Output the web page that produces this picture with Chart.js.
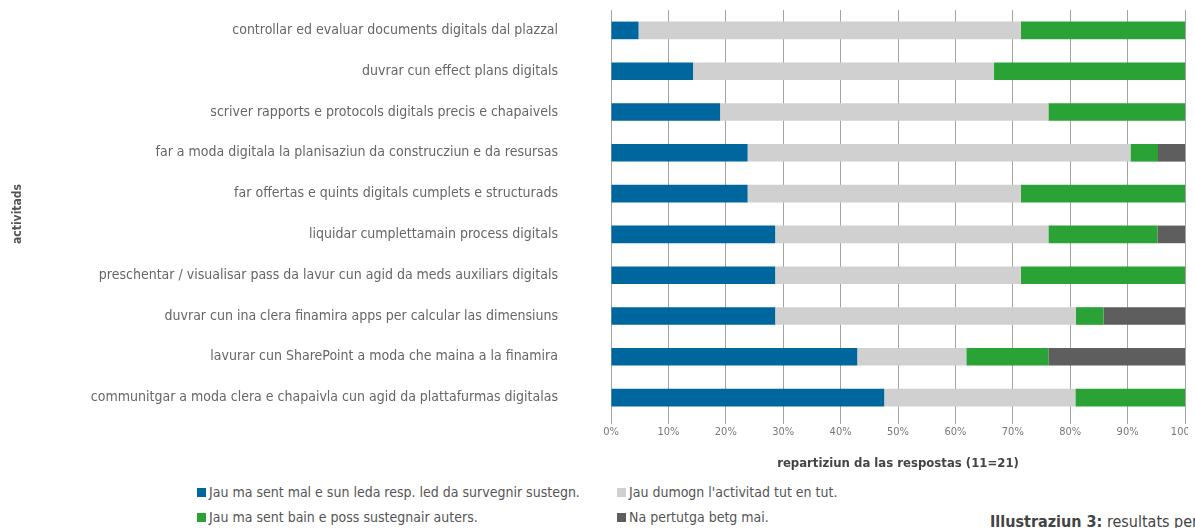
<!DOCTYPE html>
<html>
<head>
<meta charset="utf-8">
<script src="https://cdn.jsdelivr.net/npm/chart.js@4.4.0/dist/chart.umd.min.js"></script>
<style>
  html, body { margin: 0; padding: 0; background: #fff; overflow: hidden; width: 1195px; height: 528px; }
  body { position: relative; font-family: 'Liberation Sans Narrow', 'DejaVu Sans Condensed', sans-serif; }
  #wrap { position: absolute; left: 0; top: 0; width: 1188px; height: 478px; overflow: hidden; }
  #box { width: 1210px; height: 478px; }
  .leg { position: absolute; font-size: 14px; color: #555; white-space: nowrap; line-height: 16px; }
  .leg i { display: inline-block; width: 9px; height: 9px; margin-right: 3px; vertical-align: 0px; }
  #caption { position: absolute; left: 990px; top: 512px; font-size: 16px; color: #444; white-space: nowrap; }
</style>
</head>
<body>
<div id="wrap"><div id="box"><canvas id="chart"></canvas></div></div>
<div id="legend"></div>
<div id="caption"><b>Illustraziun 3:</b> resultats per</div>

<script>
const categories = [
  "controllar ed evaluar documents digitals dal plazzal",
  "duvrar cun effect plans digitals",
  "scriver rapports e protocols digitals precis e chapaivels",
  "far a moda digitala la planisaziun da construcziun e da resursas",
  "far offertas e quints digitals cumplets e structurads",
  "liquidar cumplettamain process digitals",
  "preschentar / visualisar pass da lavur cun agid da meds auxiliars digitals",
  "duvrar cun ina clera finamira apps per calcular las dimensiuns",
  "lavurar cun SharePoint a moda che maina a la finamira",
  "communitgar a moda clera e chapaivla cun agid da plattafurmas digitalas"
];

const seriesNames = [
  "Jau ma sent mal e sun leda resp. led da survegnir sustegn.",
  "Jau dumogn l'activitad tut en tut.",
  "Jau ma sent bain e poss sustegnair auters.",
  "Na pertutga betg mai."
];

// percent of answers (n=21)
const malValues    = [4.8, 14.3, 19.0, 23.8, 23.8, 28.6, 28.6, 28.6, 42.9, 47.6];
const dumognValues = [66.6, 52.4, 57.2, 66.7, 47.6, 47.6, 42.8, 52.4, 19.0, 33.3];
const bainValues   = [28.6, 33.3, 23.8, 4.8, 28.6, 19.0, 28.6, 4.8, 14.3, 19.1];
const betgValues   = [0, 0, 0, 4.7, 0, 4.8, 0, 14.2, 23.8, 0];

const xTicks = [0, 10, 20, 30, 40, 50, 60, 70, 80, 90, 100];

const colors = ["#00669e", "#cfd0cf", "#2aa236", "#5e5e5e"];
const allValues = [malValues, dumognValues, bainValues, betgValues];

const FONT = "'Liberation Sans Narrow', 'DejaVu Sans Condensed', sans-serif";

const ctx = document.getElementById("chart").getContext("2d");
new Chart(ctx, {
  type: "bar",
  data: {
    labels: categories,
    datasets: seriesNames.map((name, i) => ({
      label: name,
      data: allValues[i],
      backgroundColor: colors[i],
      borderWidth: 0,
      barPercentage: 0.9,
      categoryPercentage: 0.48
    }))
  },
  options: {
    indexAxis: "y",
    responsive: true,
    maintainAspectRatio: false,
    animation: false,
    layout: { padding: { left: 0, right: 25, top: 10, bottom: 0 } },
    plugins: {
      legend: { display: false },
      tooltip: { enabled: false }
    },
    scales: {
      x: {
        stacked: true,
        min: 0,
        max: 100,
        afterBuildTicks: s => { s.ticks = xTicks.map(v => ({ value: v })); },
        afterFit: s => { s.height = 60; },
        grid: { color: "#a3a3a3", lineWidth: 1, tickLength: 6 },
        border: { display: false },
        ticks: {
          padding: 2,
          color: "#777",
          font: { family: FONT, size: 11 },
          callback: v => v + "%"
        },
        title: {
          display: true,
          text: "repartiziun da las respostas (11=21)",
          color: "#444",
          font: { family: FONT, size: 13, weight: "bold" },
          padding: { top: 0, bottom: 7 }
        }
      },
      y: {
        stacked: true,
        afterFit: s => { s.width = 611; },
        // tick marks hidden, their length only moves the labels left
        grid: { display: false, drawTicks: true, tickLength: 53 },
        border: { display: false },
        ticks: {
          padding: 0,
          color: "#666",
          font: { family: FONT, size: 14 }
        },
        title: {
          display: true,
          text: "activitads",
          color: "#555",
          font: { family: FONT, size: 12, weight: "bold" },
          padding: { top: 11, bottom: 0 }
        }
      }
    }
  }
});

// legend in two columns like the original
const legPos = [[197, 484], [617, 484], [197, 509], [617, 509]];
const legend = document.getElementById("legend");
seriesNames.forEach((name, i) => {
  const d = document.createElement("div");
  d.className = "leg";
  d.style.left = legPos[i][0] + "px";
  d.style.top = legPos[i][1] + "px";
  d.innerHTML = `<i style="background:${colors[i]}"></i>${name}`;
  legend.appendChild(d);
});
</script>
</body>
</html>
